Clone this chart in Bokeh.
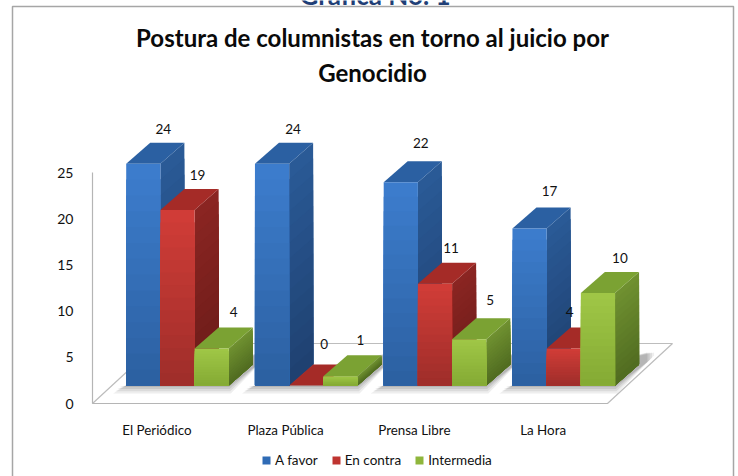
from bokeh.plotting import figure
from bokeh.models import Range1d, FixedTicker, Legend, LegendItem, LinearAxis
from bokeh.embed import file_html
from bokeh.resources import INLINE
from bokeh.core.properties import value

# ---- data
categories = ["El Periódico", "Plaza Pública", "Prensa Libre", "La Hora"]
a_favor = [24, 24, 22, 17]
en_contra = [19, 0, 11, 4]
intermedia = [4, 1, 5, 10]
series_names = ["A favor", "En contra", "Intermedia"]
y_ticks = [0, 5, 10, 15, 20, 25]
title_lines = ["Postura de columnistas en torno al juicio por", "Genocidio"]
heading = "Gráfica No. 1"

FONT = "Lato"
W, H = 738, 476
PX, PY = 128.75, 9.24       # pixels per category / per value unit
X0, Y0 = 92, 403            # pixel of the axes origin
BAR_L, BAR_W = 33.7 / PX, 34.2 / PX
BASE = 18 / PY
DX, DY = 24 / PX, 21 / PY
FLOOR_DX, FLOOR_DY = 65 / PX, 60 / PY
# small placement corrections of the data labels, in pixels (series by category)
LABEL_DX = [[20, 21, 20, 20], [20, 18, 16, 6], [22, 20, 21, 22]]
LABEL_DY = [[35, 35, 39, 37], [35, 42, 36, 37], [37, 36, 39, 35]]


def sx(px):
    return (px - X0) / PX


def sy(px):
    return (Y0 - px) / PY


def lerp(c1, c2, t):
    a = [int(c1[i:i + 2], 16) for i in (1, 3, 5)]
    b = [int(c2[i:i + 2], 16) for i in (1, 3, 5)]
    return "#%02x%02x%02x" % tuple(round(a[i] + (b[i] - a[i]) * t) for i in range(3))


p = figure(width=W, height=H, output_backend="svg", toolbar_location=None,
           x_range=Range1d(sx(0), sx(W)), y_range=Range1d(sy(H), sy(0)),
           min_border=0, outline_line_color=None,
           background_fill_color="white", border_fill_color="white",
           x_axis_location=None, y_axis_location=None)
p.grid.visible = False

# chart box
p.quad(left=[sx(12)], right=[sx(733)], bottom=[sy(480)], top=[sy(6)],
       fill_color="white", line_color="#a6a6a6", line_width=1.5)

# floor
p.patch([0, 4, 4 + FLOOR_DX, FLOOR_DX, 0], [0, 0, FLOOR_DY, FLOOR_DY, 0],
        fill_color="white", line_color="#bdbdbd", line_width=1.2)

# axes
yax = LinearAxis(ticker=FixedTicker(ticks=y_ticks), fixed_location=0, bounds=(0, 25))
yax.axis_line_color = "#b5b5b5"
yax.axis_line_width = 1.2
yax.major_tick_line_color = None
yax.minor_tick_line_color = None
yax.major_label_standoff = 13
yax.major_label_text_font = FONT
yax.major_label_text_font_size = "14px"
yax.major_label_text_color = "#111111"
p.add_layout(yax, "left")

xax = LinearAxis(ticker=FixedTicker(ticks=[i + 0.5 for i in range(len(categories))]),
                 fixed_location=0, bounds=(0, 4))
xax.major_label_overrides = {i + 0.5: c for i, c in enumerate(categories)}
xax.axis_line_color = "#b5b5b5"
xax.axis_line_width = 1.2
xax.major_tick_line_color = None
xax.minor_tick_line_color = None
xax.major_label_standoff = 12
xax.major_label_text_font = FONT
xax.major_label_text_font_size = "13.4px"
xax.major_label_text_color = "#111111"
p.add_layout(xax, "below")

palette = [
    dict(front=("#3c7ccc", "#2b5f9f"), side=("#2a5a96", "#1e3f6e"), top="#2b60a2"),
    dict(front=("#d03c37", "#9c2d29"), side=("#8a2522", "#6a1b18"), top="#a52b27"),
    dict(front=("#9fc646", "#83a933"), side=("#6f9030", "#4f6a20"), top="#7ba233"),
]
series = [a_favor, en_contra, intermedia]
N = 14

# floor shadows
for g in range(len(categories)):
    L = g + BAR_L
    R = L + 3 * BAR_W
    for k, a in enumerate([0.10, 0.12, 0.14, 0.16]):
        ins = k * 2.2
        xs = [L - (13 - ins) / PX, R + (2 - ins * 0.3) / PX,
              R + DX + (15 - ins) / PX, R + DX + (15 - ins) / PX, L]
        ys = [BASE - (8 - ins) / PY, BASE - (8 - ins) / PY,
              BASE + DY + (9 - ins) / PY, BASE + DY + 12 / PY, BASE]
        p.patch(xs, ys, fill_color="#555555", fill_alpha=a, line_color=None)

# bars
for g in range(len(categories)):
    for s, vals in enumerate(series):
        v = vals[g]
        c = palette[s]
        L = g + BAR_L + s * BAR_W
        R = L + BAR_W
        T = BASE + v
        # side face, painted tallest first so that slices never show a seam
        sxs, sys, scol = [], [], []
        for i in range(N):
            t = i / N
            top = BASE + v * (1 - t)
            sxs.append([R, R + DX, R + DX, R])
            sys.append([BASE, BASE + DY, top + DY, top])
            scol.append(lerp(c["side"][0], c["side"][1], t))
        p.patches(sxs, sys, fill_color=scol, line_color=None)
        # top face
        p.patch([L, R, R + DX, L + DX], [T, T, T + DY, T + DY],
                fill_color=c["top"], line_color=None)
        # front face
        tops = [BASE + v * (1 - i / N) for i in range(N)]
        fcol = [lerp(c["front"][0], c["front"][1], i / N) for i in range(N)]
        p.quad(left=[L] * N, right=[R] * N, bottom=[BASE] * N, top=tops,
               fill_color=fcol, line_color=None)

# data labels
lab_x, lab_y, lab_t = [], [], []
for s, vals in enumerate(series):
    for g, v in enumerate(vals):
        lab_x.append(g + BAR_L + (s + 0.5) * BAR_W + LABEL_DX[s][g] / PX)
        lab_y.append(BASE + v + LABEL_DY[s][g] / PY)
        lab_t.append(str(v))
p.text(lab_x, lab_y, text=lab_t, text_font=value(FONT), text_font_size="13.5px",
       text_color="#111111", text_align="center", text_baseline="middle")

# title and clipped heading
for i, line in enumerate(title_lines):
    p.text([sx(372)], [sy(37 + i * 35)], text=[line], text_font=value(FONT),
           text_font_size="24px", text_font_style="bold", text_color="#0a0a0a",
           text_align="center", text_baseline="middle")
p.text([sx(374.5)], [sy(-6)], text=[heading], text_font=value(FONT), text_font_size="26px",
       text_font_style="bold", text_color="#1f3f77", text_align="center",
       text_baseline="middle")

# legend: the swatch of each entry comes from a box lying outside the ranges
legend_colors = ["#2f6bb5", "#bf3430", "#8fb63c"]
items = []
for name, col in zip(series_names, legend_colors):
    r = p.quad(left=[sx(-60)], right=[sx(-50)], bottom=[sy(-50)], top=[sy(-60)],
               fill_color=col, line_color=None)
    items.append(LegendItem(label=name, renderers=[r]))
leg = Legend(items=items, orientation="horizontal", location=(261, 8),
             background_fill_alpha=0, border_line_color=None,
             glyph_width=10, glyph_height=10, label_standoff=4, spacing=13,
             label_text_font=FONT, label_text_font_size="13.5px",
             label_text_color="#111111", margin=0, padding=0)
p.add_layout(leg, "center")

open("out.html", "w").write(file_html(p, INLINE))
